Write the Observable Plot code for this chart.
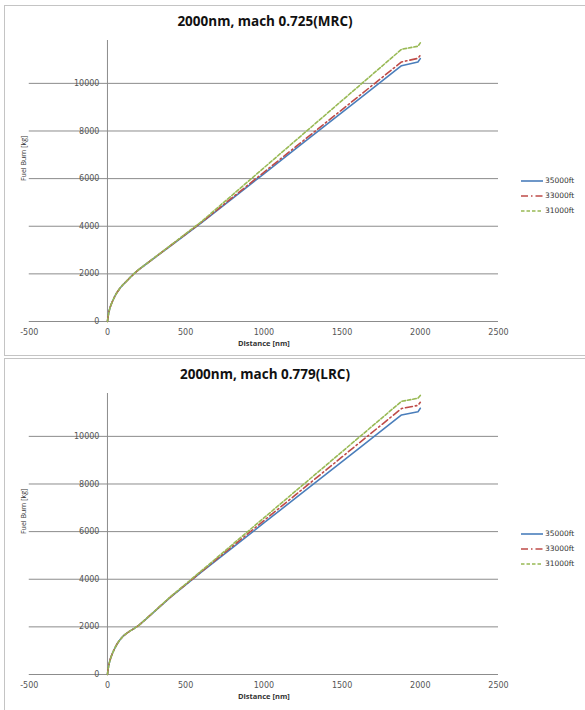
<!DOCTYPE html>
<html>
<head>
<meta charset="utf-8">
<script src="https://cdn.jsdelivr.net/npm/d3@7"></script>
<script src="https://cdn.jsdelivr.net/npm/@observablehq/plot@0.6"></script>
<style>
  html, body { margin: 0; padding: 0; background: #fff; }
  #page { position: relative; width: 585px; height: 710px; overflow: hidden; background: #fff; }
  .panel { position: absolute; left: 0; width: 585px; height: 355px; }
  .box { position: absolute; left: 4px; border: 1px solid #c4c4c4; }
  .title { position: absolute; left: 0; width: 530px; text-align: center; top: 12px;
           font: bold 13.5px "Open Sans", sans-serif; color: #111; }
  .legend { position: absolute; left: 521px; top: 173px; font: 7.5px "DejaVu Sans", sans-serif; color: #333; }
  .legend div { height: 15px; display: flex; align-items: center; }
  .legend svg { margin-right: 2px; }
  .plot { position: absolute; left: 0; top: 0; }
</style>
</head>
<body>
<div id="page"></div>
<script>
// Mission fuel burn vs. distance for three cruise altitudes (2000 nm trip)
const distance = [0, 5, 10, 20, 30, 45, 60, 80, 100, 120, 145, 170, 200, 250, 400, 600, 800, 1000, 1200, 1400, 1600, 1880, 1985, 2000];

// Mach 0.725 (MRC)
const mrc35000 = [0, 250, 430, 650, 820, 1030, 1210, 1400, 1550, 1680, 1850, 2010, 2180, 2425, 3160, 4140, 5171, 6203, 7234, 8265, 9296, 10740, 10900, 11040];
const mrc33000 = [0, 250, 430, 650, 820, 1030, 1210, 1400, 1550, 1680, 1850, 2010, 2180, 2425, 3170, 4160, 5213, 6266, 7319, 8372, 9425, 10900, 11050, 11180];
const mrc31000 = [0, 250, 430, 650, 820, 1030, 1210, 1400, 1550, 1680, 1850, 2010, 2180, 2430, 3180, 4190, 5321, 6453, 7584, 8715, 9846, 11430, 11560, 11700];

// Mach 0.779 (LRC)
const lrc35000 = [0, 260, 440, 680, 860, 1080, 1270, 1460, 1610, 1720, 1830, 1930, 2060, 2350, 3230, 4300, 5331, 6363, 7394, 8425, 9456, 10900, 11030, 11180];
const lrc33000 = [0, 260, 440, 680, 860, 1080, 1270, 1460, 1610, 1720, 1830, 1930, 2060, 2350, 3240, 4320, 5390, 6461, 7531, 8601, 9672, 11170, 11300, 11430];
const lrc31000 = [0, 260, 440, 680, 860, 1080, 1270, 1460, 1610, 1720, 1830, 1930, 2060, 2355, 3250, 4350, 5463, 6575, 7688, 8800, 9913, 11470, 11600, 11720];

const altitudes = ["35000ft", "33000ft", "31000ft"];
const lineColors = ["#4a7ebb", "#be4b48", "#98b954"];
const lineDashes = [null, "7,3,1.5,3", "3.5,2"];

const xTicks = [-500, 0, 500, 1000, 1500, 2000, 2500];
const yTicks = [0, 2000, 4000, 6000, 8000, 10000];

const charts = [
  {title: "2000nm, mach 0.725(MRC)", series: [mrc35000, mrc33000, mrc31000]},
  {title: "2000nm, mach 0.779(LRC)", series: [lrc35000, lrc33000, lrc31000]}
];

const page = document.getElementById("page");

charts.forEach((c, k) => {
  const panel = document.createElement("div");
  panel.className = "panel";
  panel.style.top = (k * 353) + "px";
  page.appendChild(panel);

  const box = document.createElement("div");
  box.className = "box";
  box.style.top = "5px";
  box.style.width = "600px";
  box.style.height = k === 0 ? "349px" : "400px";
  panel.appendChild(box);

  const rows = c.series.map((vals, s) =>
    distance.map((d, i) => ({distance: d, fuel: vals[i], altitude: altitudes[s]})));

  const lineMarks = rows.map((r, s) => Plot.line(r, {
    x: "distance", y: "fuel",
    stroke: lineColors[s], strokeWidth: 1.6,
    strokeDasharray: lineDashes[s],
    strokeLinejoin: "round"
  }));

  const svg = Plot.plot({
    width: 585, height: 355,
    marginLeft: 28.75, marginRight: 87, marginTop: 40, marginBottom: 34,
    x: {domain: [-500, 2500], axis: null},
    y: {domain: [0, 11800], axis: null},
    style: {background: "transparent", fontFamily: "DejaVu Sans, sans-serif"},
    marks: [
      Plot.ruleY(yTicks, {stroke: "#8c8c8c", strokeWidth: 1}),
      Plot.ruleX([0], {stroke: "#8c8c8c", strokeWidth: 1}),
      Plot.text(yTicks, {x: 0, y: d => d, text: d => String(d), textAnchor: "end", dx: -8, fontSize: 8, fill: "#555"}),
      Plot.axisX(xTicks, {tickSize: 0, tickPadding: 8, fontSize: 8, fill: "#555", tickFormat: d => String(d), label: null}),
      Plot.text(["Distance [nm]"], {frameAnchor: "bottom", dy: 24, fontSize: 7.5, fontWeight: "bold", fill: "#333", fontFamily: "Open Sans, sans-serif"}),
      Plot.text(["Fuel Burn [kg]"], {frameAnchor: "left", rotate: -90, dx: -6, fontSize: 7, fill: "#333", fontFamily: "Open Sans, sans-serif"}),
      ...lineMarks
    ]
  });
  svg.classList.add("plot");
  panel.appendChild(svg);

  const title = document.createElement("div");
  title.className = "title";
  title.textContent = c.title;
  panel.appendChild(title);

  const legend = document.createElement("div");
  legend.className = "legend";
  altitudes.forEach((name, s) => {
    const row = document.createElement("div");
    const dash = lineDashes[s] ? ` stroke-dasharray="${lineDashes[s]}"` : "";
    row.innerHTML = `<svg width="22" height="6"><line x1="0" x2="22" y1="3" y2="3" stroke="${lineColors[s]}" stroke-width="1.6"${dash}/></svg><span>${name}</span>`;
    legend.appendChild(row);
  });
  panel.appendChild(legend);
});
</script>
</body>
</html>
